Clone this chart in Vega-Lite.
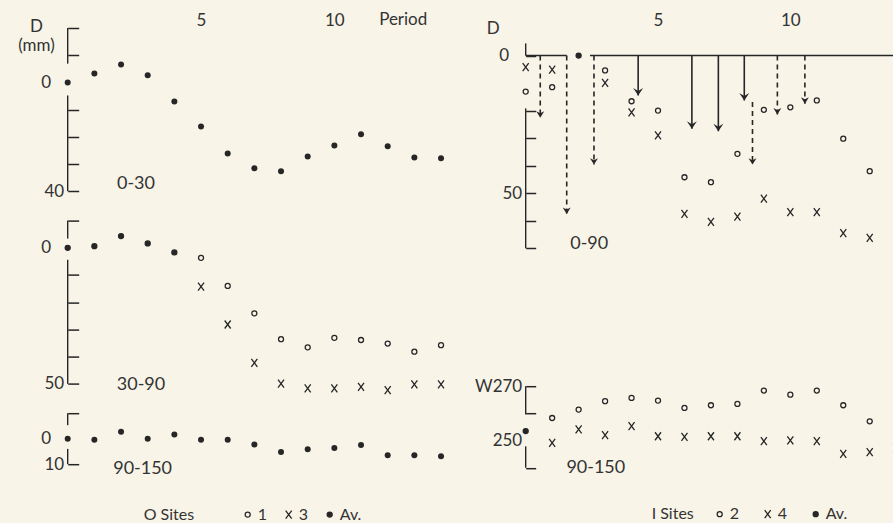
{
  "$schema": "https://vega.github.io/schema/vega-lite/v6.json",
  "background": "#f8f4e8",
  "padding": {"left": 16.7, "top": 10, "right": 0, "bottom": 0},
  "config": {
    "view": {"stroke": null},
    "font": "Lato",
    "axis": {
      "domain": false, "grid": false, "tickSize": -11, "tickWidth": 1.5, "tickColor": "#262626",
      "labelFont": "Lato", "labelFontSize": 17, "labelColor": "#333333", "labelPadding": 15,
      "labelOverlap": false, "labelBound": false, "labelFlush": false,
      "titleFont": "Lato", "titleFontWeight": "normal", "titleColor": "#333333", "titleFontSize": 17
    },
    "text": {"font": "Lato", "fontSize": 18, "color": "#333333"}
  },
  "datasets": {
    "o_0_30": [
      {"period": 0, "depth": 0, "site": "Av."}, {"period": 1, "depth": -3.3, "site": "Av."},
      {"period": 2, "depth": -6.6, "site": "Av."}, {"period": 3, "depth": -2.6, "site": "Av."},
      {"period": 4, "depth": 7.0, "site": "Av."}, {"period": 5, "depth": 16.2, "site": "Av."},
      {"period": 6, "depth": 26.1, "site": "Av."}, {"period": 7, "depth": 31.6, "site": "Av."},
      {"period": 8, "depth": 32.7, "site": "Av."}, {"period": 9, "depth": 27.2, "site": "Av."},
      {"period": 10, "depth": 23.2, "site": "Av."}, {"period": 11, "depth": 19.1, "site": "Av."},
      {"period": 12, "depth": 23.5, "site": "Av."}, {"period": 13, "depth": 27.6, "site": "Av."},
      {"period": 14, "depth": 27.9, "site": "Av."}
    ],
    "o_30_90": [
      {"period": 0, "depth": 0, "site": "Av."}, {"period": 1, "depth": -0.6, "site": "Av."},
      {"period": 2, "depth": -4.3, "site": "Av."}, {"period": 3, "depth": -1.6, "site": "Av."},
      {"period": 4, "depth": 1.7, "site": "Av."},
      {"period": 5, "depth": 3.7, "site": "1"}, {"period": 6, "depth": 14.0, "site": "1"},
      {"period": 7, "depth": 24.1, "site": "1"}, {"period": 8, "depth": 33.6, "site": "1"},
      {"period": 9, "depth": 36.6, "site": "1"}, {"period": 10, "depth": 33.1, "site": "1"},
      {"period": 11, "depth": 33.9, "site": "1"}, {"period": 12, "depth": 35.2, "site": "1"},
      {"period": 13, "depth": 38.2, "site": "1"}, {"period": 14, "depth": 35.8, "site": "1"},
      {"period": 5, "depth": 14.3, "site": "3"}, {"period": 6, "depth": 28.2, "site": "3"},
      {"period": 7, "depth": 42.3, "site": "3"}, {"period": 8, "depth": 49.9, "site": "3"},
      {"period": 9, "depth": 51.7, "site": "3"}, {"period": 10, "depth": 51.7, "site": "3"},
      {"period": 11, "depth": 51.1, "site": "3"}, {"period": 12, "depth": 52.3, "site": "3"},
      {"period": 13, "depth": 50.2, "site": "3"}, {"period": 14, "depth": 50.2, "site": "3"}
    ],
    "o_90_150": [
      {"period": 0, "depth": 0, "site": "Av."}, {"period": 1, "depth": 0.4, "site": "Av."},
      {"period": 2, "depth": -2.7, "site": "Av."}, {"period": 3, "depth": 0, "site": "Av."},
      {"period": 4, "depth": -1.6, "site": "Av."}, {"period": 5, "depth": 0.4, "site": "Av."},
      {"period": 6, "depth": 0.4, "site": "Av."}, {"period": 7, "depth": 2.3, "site": "Av."},
      {"period": 8, "depth": 5.2, "site": "Av."}, {"period": 9, "depth": 4.1, "site": "Av."},
      {"period": 10, "depth": 3.6, "site": "Av."}, {"period": 11, "depth": 2.5, "site": "Av."},
      {"period": 12, "depth": 6.5, "site": "Av."}, {"period": 13, "depth": 6.5, "site": "Av."},
      {"period": 14, "depth": 6.9, "site": "Av."}
    ],
    "i_0_90": [
      {"period": 0, "depth": 13.1, "site": "2"}, {"period": 1, "depth": 11.5, "site": "2"},
      {"period": 3, "depth": 5.4, "site": "2"}, {"period": 4, "depth": 16.6, "site": "2"},
      {"period": 5, "depth": 20.0, "site": "2"}, {"period": 6, "depth": 44.2, "site": "2"},
      {"period": 7, "depth": 46.0, "site": "2"}, {"period": 8, "depth": 35.7, "site": "2"},
      {"period": 9, "depth": 19.7, "site": "2"}, {"period": 10, "depth": 18.8, "site": "2"},
      {"period": 11, "depth": 16.3, "site": "2"}, {"period": 12, "depth": 30.2, "site": "2"},
      {"period": 13, "depth": 42.0, "site": "2"}, {"period": 14, "depth": 38.1, "site": "2"},
      {"period": 0, "depth": 4.2, "site": "4"}, {"period": 1, "depth": 5.1, "site": "4"},
      {"period": 3, "depth": 9.9, "site": "4"}, {"period": 4, "depth": 20.6, "site": "4"},
      {"period": 5, "depth": 29.0, "site": "4"}, {"period": 6, "depth": 57.5, "site": "4"},
      {"period": 7, "depth": 60.4, "site": "4"}, {"period": 8, "depth": 58.5, "site": "4"},
      {"period": 9, "depth": 52.0, "site": "4"}, {"period": 10, "depth": 56.9, "site": "4"},
      {"period": 11, "depth": 56.9, "site": "4"}, {"period": 12, "depth": 64.5, "site": "4"},
      {"period": 13, "depth": 66.2, "site": "4"}, {"period": 14, "depth": 66.9, "site": "4"},
      {"period": 2, "depth": 0, "site": "Av."}
    ],
    "i_arrows": [
      {"period": 0.55, "from": 0, "to": 22.6, "site": "2"},
      {"period": 1.55, "from": 0, "to": 57.5, "site": "2"},
      {"period": 2.58, "from": 0, "to": 39.6, "site": "2"},
      {"period": 4.25, "from": 0, "to": 14.5, "site": "4"},
      {"period": 6.28, "from": 0, "to": 26.6, "site": "4"},
      {"period": 7.28, "from": 0, "to": 27.5, "site": "4"},
      {"period": 8.26, "from": 0, "to": 16.3, "site": "4"},
      {"period": 8.57, "from": 16.9, "to": 39.6, "site": "2"},
      {"period": 9.51, "from": 0, "to": 21.4, "site": "2"},
      {"period": 10.55, "from": 0, "to": 17.5, "site": "2"}
    ],
    "i_90_150": [
      {"period": 1, "w": 258.3, "site": "2"}, {"period": 2, "w": 261.4, "site": "2"},
      {"period": 3, "w": 264.5, "site": "2"}, {"period": 4, "w": 265.7, "site": "2"},
      {"period": 5, "w": 264.7, "site": "2"}, {"period": 6, "w": 262.0, "site": "2"},
      {"period": 7, "w": 263.0, "site": "2"}, {"period": 8, "w": 263.5, "site": "2"},
      {"period": 9, "w": 268.4, "site": "2"}, {"period": 10, "w": 266.9, "site": "2"},
      {"period": 11, "w": 268.4, "site": "2"}, {"period": 12, "w": 263.0, "site": "2"},
      {"period": 13, "w": 257.1, "site": "2"}, {"period": 14, "w": 257.1, "site": "2"},
      {"period": 1, "w": 249.2, "site": "4"}, {"period": 2, "w": 254.1, "site": "4"},
      {"period": 3, "w": 252.0, "site": "4"}, {"period": 4, "w": 255.3, "site": "4"},
      {"period": 5, "w": 251.6, "site": "4"}, {"period": 6, "w": 251.4, "site": "4"},
      {"period": 7, "w": 251.6, "site": "4"}, {"period": 8, "w": 251.6, "site": "4"},
      {"period": 9, "w": 249.8, "site": "4"}, {"period": 10, "w": 250.1, "site": "4"},
      {"period": 11, "w": 249.8, "site": "4"}, {"period": 12, "w": 245.1, "site": "4"},
      {"period": 13, "w": 245.8, "site": "4"}, {"period": 14, "w": 247.3, "site": "4"},
      {"period": 0, "w": 253.5, "site": "Av."}
    ]
  },
  "hconcat": [
    {
      "vconcat": [
        {
          "width": 400, "height": 163.2,
          "data": {"name": "o_0_30"},
          "layer": [
            {
              "mark": {"type": "point", "shape": "circle", "filled": true, "color": "#262626", "size": 36, "opacity": 1},
              "encoding": {
                "x": {"field": "period", "type": "quantitative", "scale": {"domain": [0, 15], "nice": false, "zero": false},
                  "axis": {"orient": "top", "values": [5, 10], "format": "d", "tickCount": 20, "ticks": false, "labelPadding": 3, "labelBaseline": "alphabetic", "labelOverlap": false,
                    "title": "Period", "titleX": 335, "titleY": -3.5, "titleBaseline": "alphabetic", "titleAlign": "center", "titleAngle": 0}},
                "y": {"field": "depth", "type": "quantitative", "scale": {"domain": [-20, 40], "reverse": true, "nice": false, "zero": false},
                  "axis": {"values": [-20, -10, 0, 10, 20, 30, 40], "tickCount": 20, "labelOverlap": false,
                    "labelExpr": "datum.value === 0 ? '0\u00a0\u00a0\u00a0\u200b' : datum.value === 40 ? '40' : ''",
                    "tickOpacity": {"condition": {"test": "datum.value === 0", "value": 0}, "value": 1},
                    "title": ["D", "(mm)"], "titleAngle": 0, "titleAlign": "center", "titleBaseline": "top",
                    "titleX": -31.7, "titleY": -9.6, "titleLineHeight": 19}}
              }
            },
            {
              "data": {"values": [{}]},
              "mark": {"type": "rule", "color": "#262626", "strokeWidth": 1.4},
              "encoding": {"x": {"datum": 0}, "y": {"datum": -20}, "y2": {"datum": -6.9}}
            },
            {
              "data": {"values": [{}]},
              "mark": {"type": "rule", "color": "#262626", "strokeWidth": 1.4},
              "encoding": {"x": {"datum": 0}, "y": {"datum": 4.8}, "y2": {"datum": 40}}
            },
            {
              "data": {"values": [{}]},
              "mark": {"type": "text", "text": "0-30"},
              "encoding": {"x": {"datum": 2.56}, "y": {"datum": 37.5}}
            }
          ]
        },
        {
          "width": 400, "height": 163.2,
          "data": {"name": "o_30_90"},
          "layer": [
            {
              "mark": {"type": "point", "strokeWidth": 1.3, "size": 25, "opacity": 1},
              "encoding": {
                "x": {"field": "period", "type": "quantitative", "scale": {"domain": [0, 15], "nice": false, "zero": false}, "axis": null},
                "y": {"field": "depth", "type": "quantitative", "scale": {"domain": [-10, 50], "reverse": true, "nice": false, "zero": false},
                  "axis": {"values": [-10, 0, 10, 20, 30, 40, 50], "tickCount": 20, "labelOverlap": false,
                    "labelExpr": "datum.value === 0 ? '0\u00a0\u00a0\u00a0\u200b' : datum.value === 50 ? '50' : ''",
                    "tickOpacity": {"condition": {"test": "datum.value === 0", "value": 0}, "value": 1},
                    "title": null}},
                "shape": {"field": "site", "type": "nominal",
                  "scale": {"domain": ["1", "3", "Av."], "range": ["circle", "M-1.2,-1.6L1.2,1.6M1.2,-1.6L-1.2,1.6", "circle"]},
                  "legend": {"orient": "none", "legendX": 76, "legendY": 286, "direction": "horizontal",
                    "title": "O Sites", "titleOrient": "left", "titlePadding": 45, "titleFontSize": 16, "titleFontWeight": "normal",
                    "titleColor": "#333333", "titleFont": "Lato", "labelFontSize": 16, "labelFont": "Lato", "labelColor": "#333333",
                    "labelOffset": 2, "columnPadding": 13, "symbolSize": 25, "symbolStrokeWidth": 1.3}},
                "fill": {"field": "site", "type": "nominal",
                  "scale": {"domain": ["1", "3", "Av."], "range": ["transparent", "transparent", "#262626"]},
                  "legend": {"orient": "none", "legendX": 76, "legendY": 286, "direction": "horizontal",
                    "title": "O Sites", "titleOrient": "left", "titlePadding": 45, "titleFontSize": 16, "titleFontWeight": "normal",
                    "titleColor": "#333333", "titleFont": "Lato", "labelFontSize": 16, "labelFont": "Lato", "labelColor": "#333333",
                    "labelOffset": 2, "columnPadding": 13, "symbolSize": 25, "symbolStrokeWidth": 1.3}},
                "stroke": {"field": "site", "type": "nominal",
                  "scale": {"domain": ["1", "3", "Av."], "range": ["#262626", "#262626", "#262626"]},
                  "legend": {"orient": "none", "legendX": 76, "legendY": 286, "direction": "horizontal",
                    "title": "O Sites", "titleOrient": "left", "titlePadding": 45, "titleFontSize": 16, "titleFontWeight": "normal",
                    "titleColor": "#333333", "titleFont": "Lato", "labelFontSize": 16, "labelFont": "Lato", "labelColor": "#333333",
                    "labelOffset": 2, "columnPadding": 13, "symbolSize": 25, "symbolStrokeWidth": 1.3}}
              }
            },
            {
              "data": {"values": [{}]},
              "mark": {"type": "rule", "color": "#262626", "strokeWidth": 1.4},
              "encoding": {"x": {"datum": 0}, "y": {"datum": -10}, "y2": {"datum": -3.4}}
            },
            {
              "data": {"values": [{}]},
              "mark": {"type": "rule", "color": "#262626", "strokeWidth": 1.4},
              "encoding": {"x": {"datum": 0}, "y": {"datum": 4.4}, "y2": {"datum": 50}}
            },
            {
              "data": {"values": [{}]},
              "mark": {"type": "text", "text": "30-90"},
              "encoding": {"x": {"datum": 2.75}, "y": {"datum": 50.4}}
            }
          ]
        },
        {
          "width": 400, "height": 51,
          "data": {"name": "o_90_150"},
          "layer": [
            {
              "mark": {"type": "point", "shape": "circle", "filled": true, "color": "#262626", "size": 36, "opacity": 1},
              "encoding": {
                "x": {"field": "period", "type": "quantitative", "scale": {"domain": [0, 15], "nice": false, "zero": false}, "axis": null},
                "y": {"field": "depth", "type": "quantitative", "scale": {"domain": [-10, 10], "reverse": true, "nice": false, "zero": false},
                  "axis": {"values": [-10, 0, 10], "tickCount": 20, "labelOverlap": false,
                    "labelExpr": "datum.value === 0 ? '0\u00a0\u00a0\u00a0\u200b' : datum.value === 10 ? '10' : ''",
                    "tickOpacity": {"condition": {"test": "datum.value === 0", "value": 0}, "value": 1},
                    "title": null}}
              }
            },
            {
              "data": {"values": [{}]},
              "mark": {"type": "rule", "color": "#262626", "strokeWidth": 1.4},
              "encoding": {"x": {"datum": 0}, "y": {"datum": -10}, "y2": {"datum": -5.3}}
            },
            {
              "data": {"values": [{}]},
              "mark": {"type": "rule", "color": "#262626", "strokeWidth": 1.4},
              "encoding": {"x": {"datum": 0}, "y": {"datum": 4}, "y2": {"datum": 10}}
            },
            {
              "data": {"values": [{}]},
              "mark": {"type": "text", "text": "90-150"},
              "encoding": {"x": {"datum": 2.81}, "y": {"datum": 11.8}}
            }
          ]
        }
      ],
      "spacing": 28.6,
      "bounds": "flush",
      "resolve": {"scale": {"shape": "independent", "fill": "independent", "stroke": "independent"}}
    },
    {
      "vconcat": [
        {
          "width": 370.5, "height": 220.3,
          "layer": [
            {
              "data": {"name": "i_0_90"},
              "transform": [{"filter": "datum.period < 14"}],
              "mark": {"type": "point", "stroke": "#262626", "strokeWidth": 1.3, "size": 25, "opacity": 1},
              "encoding": {
                "x": {"field": "period", "type": "quantitative", "scale": {"domain": [0, 14], "nice": false, "zero": false},
                  "axis": {"orient": "top", "values": [5, 10], "format": "d", "tickCount": 20, "ticks": false, "labelPadding": 3, "labelBaseline": "alphabetic", "labelOverlap": false, "title": null}},
                "y": {"field": "depth", "type": "quantitative", "scale": {"domain": [-10, 70], "reverse": true, "nice": false, "zero": false},
                  "axis": {"values": [0, 20, 30, 40, 50, 60, 70], "tickCount": 20, "tickSize": -10, "labelPadding": 14, "labelOverlap": false,
                    "labelExpr": "datum.value === 0 ? '0\u00a0\u00a0\u00a0\u200b' : datum.value === 50 ? '50' : ''",
                    "title": "D", "titleAngle": 0, "titleAlign": "center", "titleBaseline": "middle", "titleX": -33, "titleY": 0}},
                "shape": {"field": "site", "type": "nominal",
                  "scale": {"domain": ["2", "4", "Av."], "range": ["circle", "M-1.2,-1.6L1.2,1.6M1.2,-1.6L-1.2,1.6", "circle"]}, "legend": null},
                "fill": {"field": "site", "type": "nominal",
                  "scale": {"domain": ["2", "4", "Av."], "range": ["transparent", "transparent", "#262626"]}, "legend": null}
              }
            },
            {
              "data": {"name": "i_0_90"},
              "transform": [{"filter": "datum.period >= 14"}],
              "mark": {"type": "point", "stroke": "#262626", "strokeWidth": 1.3, "size": 25, "opacity": 1, "clip": true},
              "encoding": {
                "x": {"field": "period", "type": "quantitative"},
                "y": {"field": "depth", "type": "quantitative"},
                "shape": {"field": "site", "type": "nominal"},
                "fill": {"field": "site", "type": "nominal"}
              }
            },
            {
              "data": {"name": "i_arrows"},
              "mark": {"type": "rule", "color": "#262626", "strokeWidth": 1.6},
              "encoding": {
                "x": {"field": "period", "type": "quantitative"},
                "y": {"field": "from", "type": "quantitative"},
                "y2": {"field": "to"},
                "strokeDash": {"field": "site", "type": "nominal", "scale": {"domain": ["2", "4"], "range": [[5, 4], [1, 0]]}, "legend": null}
              }
            },
            {
              "data": {"name": "i_arrows"},
              "transform": [{"filter": "datum.site === '2'"}],
              "mark": {"type": "point", "shape": "M0,0L-1,-1.6L0,-1.1L1,-1.6Z", "filled": true, "color": "#262626", "size": 64, "opacity": 1},
              "encoding": {
                "x": {"field": "period", "type": "quantitative"},
                "y": {"field": "to", "type": "quantitative"}
              }
            },
            {
              "data": {"name": "i_arrows"},
              "transform": [{"filter": "datum.site === '4'"}],
              "mark": {"type": "point", "shape": "M0,0L-1,-1.5L0,-0.9L1,-1.5Z", "filled": true, "color": "#262626", "size": 100, "opacity": 1},
              "encoding": {
                "x": {"field": "period", "type": "quantitative"},
                "y": {"field": "to", "type": "quantitative"}
              }
            },
            {
              "data": {"values": [{}]},
              "mark": {"type": "rule", "color": "#262626", "strokeWidth": 1.4},
              "encoding": {"x": {"datum": 0}, "x2": {"datum": 1.55}, "y": {"datum": 0}}
            },
            {
              "data": {"values": [{}]},
              "mark": {"type": "rule", "color": "#262626", "strokeWidth": 1.4},
              "encoding": {"x": {"datum": 2.43}, "x2": {"datum": 14}, "y": {"datum": 0}}
            },
            {
              "data": {"values": [{}]},
              "mark": {"type": "rule", "color": "#262626", "strokeWidth": 1.4},
              "encoding": {"x": {"datum": 0}, "y": {"datum": -4.4}, "y2": {"datum": 0}}
            },
            {
              "data": {"values": [{}]},
              "mark": {"type": "rule", "color": "#262626", "strokeWidth": 1.4},
              "encoding": {"x": {"datum": 0}, "y": {"datum": 19.2}, "y2": {"datum": 70}}
            },
            {
              "data": {"values": [{}]},
              "mark": {"type": "text", "text": "0-90"},
              "encoding": {"x": {"datum": 2.4}, "y": {"datum": 68.3}}
            }
          ]
        },
        {
          "width": 370.5, "height": 81.6,
          "layer": [
            {
              "data": {"name": "i_90_150"},
              "transform": [{"filter": "datum.period < 14"}],
              "mark": {"type": "point", "strokeWidth": 1.3, "size": 25, "opacity": 1},
              "encoding": {
                "x": {"field": "period", "type": "quantitative", "scale": {"domain": [0, 14], "nice": false, "zero": false}, "axis": null},
                "y": {"field": "w", "type": "quantitative", "scale": {"domain": [240, 270], "nice": false, "zero": false},
                  "axis": {"values": [240, 250, 260, 270], "tickCount": 20, "tickSize": -10, "labelPadding": 14, "labelOverlap": false,
                    "labelExpr": "datum.value === 270 ? 'W270' : datum.value === 250 ? '250' : ''",
                    "tickOpacity": {"condition": {"test": "datum.value === 250", "value": 0}, "value": 1},
                    "title": null}},
                "shape": {"field": "site", "type": "nominal",
                  "scale": {"domain": ["2", "4", "Av."], "range": ["circle", "M-1.2,-1.6L1.2,1.6M1.2,-1.6L-1.2,1.6", "circle"]},
                  "legend": {"orient": "none", "legendX": 126, "legendY": 120, "direction": "horizontal",
                    "title": "I Sites", "titleOrient": "left", "titlePadding": 17, "titleFontSize": 16, "titleFontWeight": "normal",
                    "titleColor": "#333333", "titleFont": "Lato", "labelFontSize": 16, "labelFont": "Lato", "labelColor": "#333333",
                    "labelOffset": 2, "columnPadding": 20, "symbolSize": 25, "symbolStrokeWidth": 1.3}},
                "fill": {"field": "site", "type": "nominal",
                  "scale": {"domain": ["2", "4", "Av."], "range": ["transparent", "transparent", "#262626"]},
                  "legend": {"orient": "none", "legendX": 126, "legendY": 120, "direction": "horizontal",
                    "title": "I Sites", "titleOrient": "left", "titlePadding": 17, "titleFontSize": 16, "titleFontWeight": "normal",
                    "titleColor": "#333333", "titleFont": "Lato", "labelFontSize": 16, "labelFont": "Lato", "labelColor": "#333333",
                    "labelOffset": 2, "columnPadding": 20, "symbolSize": 25, "symbolStrokeWidth": 1.3}},
                "stroke": {"field": "site", "type": "nominal",
                  "scale": {"domain": ["2", "4", "Av."], "range": ["#262626", "#262626", "#262626"]},
                  "legend": {"orient": "none", "legendX": 126, "legendY": 120, "direction": "horizontal",
                    "title": "I Sites", "titleOrient": "left", "titlePadding": 17, "titleFontSize": 16, "titleFontWeight": "normal",
                    "titleColor": "#333333", "titleFont": "Lato", "labelFontSize": 16, "labelFont": "Lato", "labelColor": "#333333",
                    "labelOffset": 2, "columnPadding": 20, "symbolSize": 25, "symbolStrokeWidth": 1.3}}
              }
            },
            {
              "data": {"name": "i_90_150"},
              "transform": [{"filter": "datum.period >= 14"}],
              "mark": {"type": "point", "strokeWidth": 1.3, "size": 25, "opacity": 1, "clip": true},
              "encoding": {
                "x": {"field": "period", "type": "quantitative"},
                "y": {"field": "w", "type": "quantitative"},
                "shape": {"field": "site", "type": "nominal"},
                "fill": {"field": "site", "type": "nominal"},
                "stroke": {"field": "site", "type": "nominal"}
              }
            },
            {
              "data": {"values": [{}]},
              "mark": {"type": "rule", "color": "#262626", "strokeWidth": 1.4},
              "encoding": {"x": {"datum": 0}, "y": {"datum": 259.6}, "y2": {"datum": 270}}
            },
            {
              "data": {"values": [{}]},
              "mark": {"type": "rule", "color": "#262626", "strokeWidth": 1.4},
              "encoding": {"x": {"datum": 0}, "y": {"datum": 240}, "y2": {"datum": 247.9}}
            },
            {
              "data": {"values": [{}]},
              "mark": {"type": "text", "text": "90-150"},
              "encoding": {"x": {"datum": 2.65}, "y": {"datum": 240}}
            }
          ]
        }
      ],
      "spacing": 137.2,
      "bounds": "flush",
      "resolve": {"scale": {"shape": "independent", "fill": "independent", "stroke": "independent", "strokeDash": "independent"}}
    }
  ],
  "spacing": 6,
  "resolve": {"scale": {"shape": "independent", "fill": "independent", "stroke": "independent", "strokeDash": "independent"}}
}
